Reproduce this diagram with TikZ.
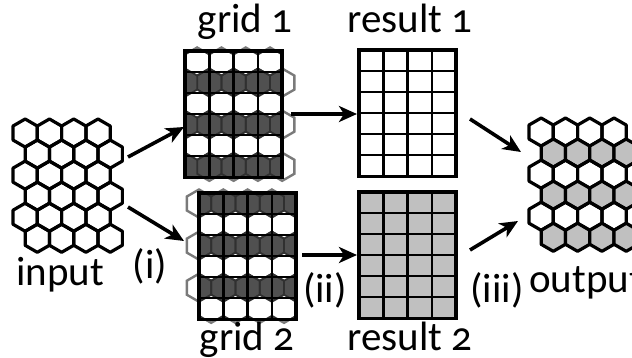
\documentclass[tikz,border=0pt]{standalone}
\usepackage{fontspec}
\setmainfont{Carlito}[Numbers=OldStyle]
\usepackage{tikz}
\usetikzlibrary{arrows.meta, calc}
\tikzset{>=stealth}
\definecolor{hexdark}{HTML}{505050}
\definecolor{hexedge}{HTML}{303030}
\definecolor{hexout}{HTML}{7A7A7A}
\definecolor{cellgray}{HTML}{C0C0C0}
\tikzset{
  hexline/.style={line width=3.2pt, line join=round},
  flow/.style={line width=3.6pt, -{Stealth[length=18pt,width=16pt,inset=5pt]}},
  lbl/.style={font=\fontsize{41}{44}\selectfont, inner sep=0pt, anchor=base},
  cellline/.style={line width=2.4pt},
  boxline/.style={line width=3.6pt},
}
% one pointy-top hexagon round (#1,#2)
\newcommand{\hexcell}[2]{(#1,#2) ++(0,-14.03) -- ++(12.15,7.015) -- ++(0,14.03) -- ++(-12.15,7.015) -- ++(-12.15,-7.015) -- ++(0,-14.03) -- cycle}
% 4x6 cells, top left corner (#1,#2)
\newcommand{\cellgrid}[2]{
  \foreach \i in {1,2,3} \draw[cellline] (#1+24.3*\i,#2) -- ++(0,126.3);
  \foreach \r in {1,...,5} \draw[cellline] (#1,#2+21.05*\r) -- ++(97.2,0);
  \draw[boxline] (#1,#2) rectangle ++(97.2,126.3);
}

\begin{document}
\begin{tikzpicture}[x=1pt,y=-1pt]
\useasboundingbox (0,0) rectangle (632,357);

% input lattice
\foreach \r in {0,...,5} \foreach \i in {0,...,3} {
  \pgfmathsetmacro\sh{mod(\r,2)*12.15}
  \draw[hexline] \hexcell{25.15+24.3*\i+\sh}{133.03+21.05*\r};
}

% grid 1
\foreach \r in {0,...,5} \foreach \i in {0,...,3} {
  \pgfmathsetmacro\sh{mod(\r,2)*12.15}
  \draw[hexout, line width=2.4pt] \hexcell{197.15+24.3*\i+\sh}{61.53+21.05*\r};
}
\fill[hexdark] (185,51) rectangle ++(97.2,126.3);
\begin{scope}
  \clip (185,51) rectangle ++(97.2,126.3);
  \foreach \r in {0,...,5} \foreach \i in {0,...,3} {
    \pgfmathsetmacro\sh{mod(\r,2)*12.15}
    \pgfmathtruncatemacro\odd{mod(\r,2)}
    \ifnum\odd=0 \fill[white] \hexcell{197.15+24.3*\i+\sh}{61.53+21.05*\r}; \fi
    \draw[hexedge, line width=1.8pt] \hexcell{197.15+24.3*\i+\sh}{61.53+21.05*\r};
  }
\end{scope}
\cellgrid{185}{51}

% grid 2
\foreach \r in {0,...,5} \foreach \i in {0,...,3} {
  \pgfmathsetmacro\sh{mod(\r,2)*12.15}
  \draw[hexout, line width=2.4pt] \hexcell{199+24.3*\i+\sh}{203.53+21.05*\r};
}
\fill[hexdark] (199,193) rectangle ++(97.2,126.3);
\begin{scope}
  \clip (199,193) rectangle ++(97.2,126.3);
  \foreach \r in {0,...,5} \foreach \i in {0,...,3} {
    \pgfmathsetmacro\sh{mod(\r,2)*12.15}
    \pgfmathtruncatemacro\odd{mod(\r,2)}
    \ifnum\odd=1 \fill[white] \hexcell{199+24.3*\i+\sh}{203.53+21.05*\r}; \fi
    \draw[hexedge, line width=1.8pt] \hexcell{199+24.3*\i+\sh}{203.53+21.05*\r};
  }
\end{scope}
\cellgrid{199}{193}

% results
\fill[white] (359,50) rectangle ++(97.2,126.3);
\cellgrid{359}{50}
\fill[cellgray] (359,192) rectangle ++(97.2,126.3);
\cellgrid{359}{192}

% output lattice
\foreach \r in {0,...,5} \foreach \i in {0,...,3} {
  \pgfmathsetmacro\sh{mod(\r,2)*12.15}
  \pgfmathtruncatemacro\odd{mod(\r,2)}
  \ifnum\odd=1
    \draw[hexline, fill=cellgray] \hexcell{541.15+24.3*\i+\sh}{132.03+21.05*\r};
  \else
    \draw[hexline] \hexcell{541.15+24.3*\i+\sh}{132.03+21.05*\r};
  \fi
}

% arrows
\coordinate (in1) at (128,157);   \coordinate (g1w) at (184,127);
\coordinate (in2) at (128,207);   \coordinate (g2w) at (184,241);
\coordinate (g1e) at (291,114);   \coordinate (r1w) at (357,114);
\coordinate (g2e) at (302,255);   \coordinate (r2w) at (357,255);
\coordinate (r1e) at (470,119);   \coordinate (ou1) at (521,152);
\coordinate (r2e) at (470,250);   \coordinate (ou2) at (518,221);
\draw[flow] (in1) -- (g1w);
\draw[flow] (in2) -- (g2w);
\draw[flow] (g1e) -- (r1w);
\draw[flow] (g2e) -- (r2w);
\draw[flow] (r1e) -- (ou1);
\draw[flow] (r2e) -- (ou2);

% labels
\node[lbl] (inname) at (60,285) {input};
\node[lbl] (step1) at (150,278) {(i)};
\node[lbl] (step2) at (325,302) {(ii)};
\node[lbl] (step3) at (497,302) {(iii)};
\node[lbl, anchor=base west] (outname) at (529,292) {output};
\node[lbl] (g1name) at (245,32) {grid 1};
\node[lbl] (r1name) at (410,32) {result 1};
\node[lbl] (g2name) at (247,350) {grid 2};
\node[lbl] (r2name) at (410,350) {result 2};
\end{tikzpicture}
\end{document}
